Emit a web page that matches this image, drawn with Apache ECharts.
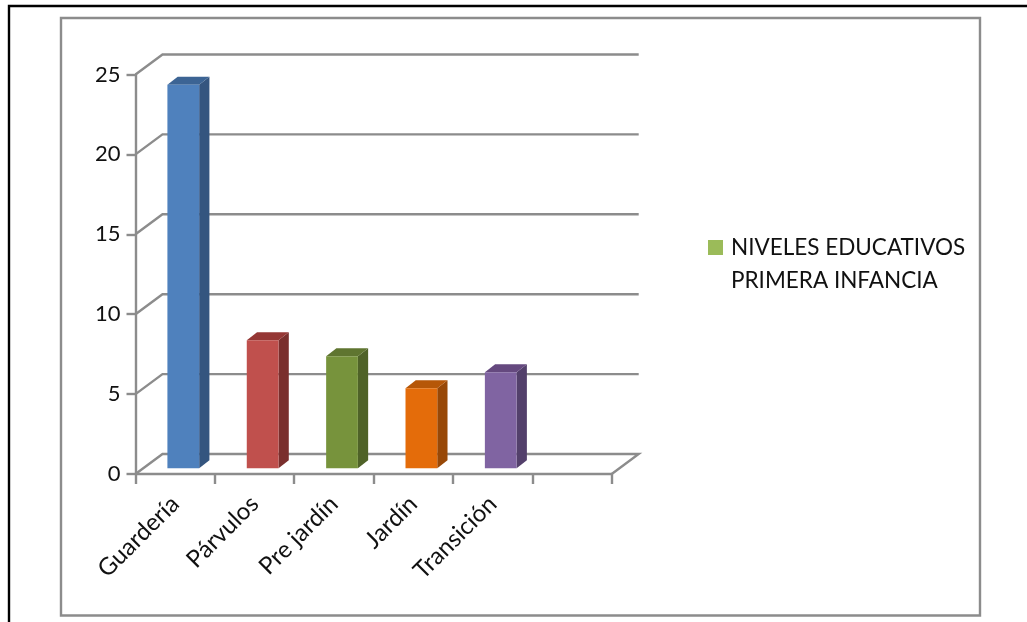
<!DOCTYPE html>
<html><head><meta charset="utf-8">
<style>html,body{margin:0;padding:0;background:#fff}#c{width:1027px;height:622px}</style>
<script src="https://cdn.jsdelivr.net/npm/echarts@6/dist/echarts.min.js"></script>
</head><body><div id="c"></div>
<script>
const categories = ['Guardería','Párvulos','Pre jardín','Jardín','Transición',''];
const values = [24,8,7,5,6];
const yTicks = [0,5,10,15,20,25];
const seriesName = 'NIVELES EDUCATIVOS\nPRIMERA INFANCIA';
const frontColors = ['#4F81BD','#C0504D','#77933C','#E46C0A','#8064A2'];
const sideColors  = ['#34557F','#7A2F2D','#4F6228','#984807','#53406B'];
const topColors   = ['#3C6494','#953735','#5F7530','#B65708','#65497F'];
const legendColor = '#9BBB59';
const DX = 27, DY = -20;        // wall depth in pixels
const GRAY = '#8C8C8C';
const LW = 2.4;
const font = 'Lato, Carlito, sans-serif';

const chart = echarts.init(document.getElementById('c'), null, {renderer:'canvas'});
chart.setOption({
  animation:false,
  backgroundColor:'#fff',
  textStyle:{fontFamily:font},
  graphic:[
    {type:'polyline',z:0,shape:{points:[[1027,6],[9,6],[9,622]]},style:{stroke:'#000',lineWidth:2.4,fill:null}},
    {type:'rect',z:0,shape:{x:61,y:18,width:919,height:597.5},style:{stroke:GRAY,lineWidth:2.4,fill:'#fff'}}
  ],
  legend:{
    left:703, top:193, orient:'vertical', selectedMode:false,
    icon:'rect', itemWidth:15, itemHeight:15, itemGap:0,
    data:[{name:seriesName, itemStyle:{color:legendColor}}],
    formatter:n=>'\n'+n,
    textStyle:{fontFamily:font,fontSize:22.5,lineHeight:33,color:'#111',padding:[0,0,0,3]}
  },
  grid:{left:135.5, top:74.5, width:476.2, height:399.5, containLabel:false},
  xAxis:{
    type:'category', data:categories, boundaryGap:true,
    axisLine:{lineStyle:{color:GRAY,width:LW}},
    axisTick:{show:true,length:10,lineStyle:{color:GRAY,width:LW}},
    axisLabel:{rotate:45,interval:0,fontSize:24,color:'#111',margin:26,fontFamily:font},
    splitLine:{show:false}
  },
  yAxis:{
    type:'value', min:0, max:25, interval:5,
    axisLine:{show:true,lineStyle:{color:GRAY,width:LW}},
    axisTick:{show:true,length:9,lineStyle:{color:GRAY,width:LW}},
    axisLabel:{fontSize:22,color:'#111',margin:15,fontFamily:font,padding:[4,0,0,0]},
    splitLine:{show:false}
  },
  series:[
    { // back wall gridlines and floor
      type:'custom', silent:true, z:1,
      data:yTicks.map(v=>[0,v]),
      encode:{x:0,y:1},
      renderItem(params,api){
        const cs=params.coordSys, y=api.coord([0,api.value(1)])[1];
        const x0=cs.x, x1=cs.x+cs.width;
        const pts=[[x0,y],[x0+DX,y+DY],[x1+DX,y+DY]];
        if(api.value(1)===0) pts.push([x1,y]);
        return {type:'polyline',shape:{points:pts},style:{stroke:GRAY,lineWidth:LW,fill:null}};
      }
    },
    { // 3D bars
      name:seriesName, type:'custom', z:2,
      itemStyle:{color:legendColor},
      data:values.map((v,i)=>[i,v]),
      encode:{x:0,y:1},
      renderItem(params,api){
        const i=api.value(0), v=api.value(1);
        const bw=api.size([1,0])[0];
        const w=bw*0.4, dx=DX*0.38, dy=DY*0.4;
        const ox=DX*0.3, oy=DY*0.29;
        const c0=api.coord([i,0]), c1=api.coord([i,v]);
        const xl=c0[0]-w/2+ox, xr=xl+w, yb=c0[1]+oy, yt=c1[1]+oy;
        return {type:'group',children:[
          {type:'polygon',shape:{points:[[xr,yb],[xr+dx,yb+dy],[xr+dx,yt+dy],[xr,yt]]},style:{fill:sideColors[i]}},
          {type:'polygon',shape:{points:[[xl,yt],[xr,yt],[xr+dx,yt+dy],[xl+dx,yt+dy]]},style:{fill:topColors[i]}},
          {type:'rect',shape:{x:xl,y:yt,width:w,height:yb-yt},style:{fill:frontColors[i]}}
        ]};
      }
    }
  ]
});
</script></body></html>
